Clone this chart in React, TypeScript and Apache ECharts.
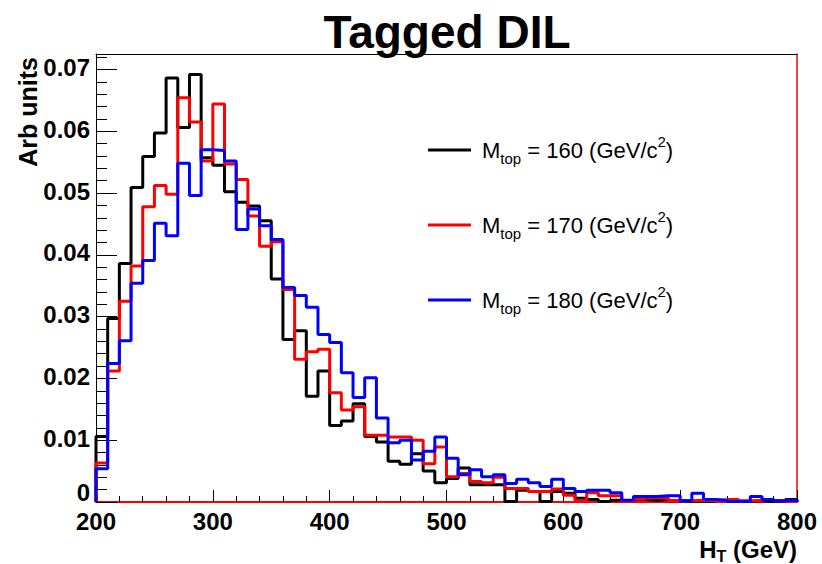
import React, { useEffect, useRef } from "react";
import * as echarts from "echarts";

// Histogram H_T, bins of 10 GeV from 200 to 800 GeV
const binStart = 200;
const binWidth = 10;

const m160 = [
  0.0106, 0.0297, 0.0386, 0.0509, 0.0559, 0.0597, 0.0686, 0.0606, 0.0692, 0.0557,
  0.0545, 0.0502, 0.0485, 0.0479, 0.0455, 0.0361, 0.0263, 0.0277, 0.0171, 0.0212,
  0.0124, 0.0131, 0.0159, 0.0106, 0.0097, 0.0066, 0.0061, 0.0078, 0.0050, 0.0031,
  0.0038, 0.0055, 0.0028, 0.0028, 0.0028, 0.0001, 0.0019, 0.0017, 0.0001, 0.0017,
  0.0014, 0.0006, 0.0004, 0.0001, 0.0003, 0.0001, 0.0004, 0.0003, 0.0004, 0.0002,
  0.0001, 0.0001, 0.0001, 0.0003, 0.0003, 0.0001, 0.0002, 0.0001, 0.0002, 0.0004,
];

const m170 = [
  0.0063, 0.0212, 0.0325, 0.0382, 0.0478, 0.0512, 0.0498, 0.0654, 0.0615, 0.0552,
  0.0644, 0.0547, 0.0522, 0.0463, 0.0414, 0.0421, 0.0344, 0.0231, 0.0243, 0.0247,
  0.0177, 0.0149, 0.0154, 0.0108, 0.0108, 0.0105, 0.0105, 0.0100, 0.0062, 0.0089,
  0.0041, 0.0046, 0.0033, 0.0031, 0.0040, 0.0022, 0.0022, 0.0017, 0.0017, 0.0021,
  0.0011, 0.0002, 0.0015, 0.0010, 0.0010, 0.0001, 0.0005, 0.0007, 0.0006, 0.0002,
  0.0002, 0.0003, 0.0002, 0.0002, 0.0004, 0.0002, 0.0002, 0.0004, 0.0002, 0.0002,
];

const m180 = [
  0.0054, 0.0224, 0.0261, 0.0354, 0.0391, 0.0451, 0.0431, 0.0548, 0.0496, 0.0570,
  0.0569, 0.0552, 0.0441, 0.0474, 0.0447, 0.0425, 0.0347, 0.0334, 0.0315, 0.0271,
  0.0258, 0.0209, 0.0169, 0.0201, 0.0136, 0.0096, 0.0100, 0.0068, 0.0082, 0.0105,
  0.0071, 0.0044, 0.0052, 0.0041, 0.0044, 0.0030, 0.0037, 0.0031, 0.0025, 0.0037,
  0.0022, 0.0017, 0.0019, 0.0019, 0.0015, 0.0003, 0.0009, 0.0009, 0.0010, 0.0010,
  0.0002, 0.0014, 0.0004, 0.0003, 0.0001, 0.0001, 0.0009, 0.0004, 0.0002, 0.0003,
];

const seriesNames = ["160", "170", "180"];
const seriesColors = ["#000000", "#ff0000", "#0000ff"];
const xTicks = [200, 300, 400, 500, 600, 700, 800];

const FONT = "'Liberation Sans', Arial, Helvetica, sans-serif";

function toSteps(vals: number[]): number[][] {
  const pts: number[][] = [[binStart, 0]];
  vals.forEach((v, i) => pts.push([binStart + i * binWidth, v]));
  const end = binStart + vals.length * binWidth;
  pts.push([end, vals[vals.length - 1]]);
  pts.push([end, 0]);
  return pts;
}

export default function App() {
  const ref = useRef<HTMLDivElement>(null);
  useEffect(() => {
    if (!ref.current) return;
    const chart = echarts.init(ref.current, undefined, { renderer: "svg" });
    const gridLeft = 96;
    const gridTop = 54;
    const gridRight = 25;
    const gridBottom = 62;
    const yMax = 0.0725;
    const legendY = [150, 225, 300];
    const data = [m160, m170, m180];

    const graphics: any[] = [
      {
        type: "text",
        x: 447,
        y: 32,
        style: {
          text: "Tagged DIL",
          font: `bold 46px ${FONT}`,
          fill: "#000",
          align: "center",
          verticalAlign: "middle",
        },
      },
      {
        type: "text",
        x: 28,
        y: 57,
        rotation: Math.PI / 2,
        style: {
          text: "Arb units",
          font: `bold 25px ${FONT}`,
          fill: "#000",
          align: "right",
          verticalAlign: "middle",
        },
      },
      {
        type: "text",
        x: 797,
        y: 549,
        style: {
          text: "{a|H}{s|T}{a| (GeV)}",
          align: "right",
          verticalAlign: "middle",
          rich: {
            a: { fontFamily: FONT, fontWeight: "bold", fontSize: 24, lineHeight: 30, verticalAlign: "middle", fill: "#000" },
            s: { fontFamily: FONT, fontWeight: "bold", fontSize: 16, lineHeight: 15, verticalAlign: "bottom", fill: "#000" },
          },
        },
      },
    ];
    seriesNames.forEach((n, i) => {
      graphics.push({
        type: "line",
        shape: { x1: 428, y1: legendY[i], x2: 471, y2: legendY[i] },
        style: { stroke: seriesColors[i], lineWidth: 3 },
      });
      graphics.push({
        type: "text",
        x: 482,
        y: legendY[i],
        style: {
          text: `{m|M}{s|top}{m| = ${n} (GeV/c}{p|2}{m|)}`,
          verticalAlign: "middle",
          rich: {
            m: { fontFamily: FONT, fontSize: 22, lineHeight: 32, verticalAlign: "middle", fill: "#000" },
            s: { fontFamily: FONT, fontSize: 15, lineHeight: 14, verticalAlign: "bottom", fill: "#000" },
            p: { fontFamily: FONT, fontSize: 15, lineHeight: 10, verticalAlign: "top", fill: "#000" },
          },
        },
      });
    });

    const labelFont = { fontFamily: FONT, fontWeight: "bold" as const, fontSize: 24, color: "#000" };

    chart.setOption({
      animation: false,
      backgroundColor: "#ffffff",
      grid: { left: gridLeft, top: gridTop, right: gridRight, bottom: gridBottom, containLabel: false },
      xAxis: [
        {
          type: "value",
          min: xTicks[0],
          max: xTicks[xTicks.length - 1],
          interval: 100,
          position: "bottom",
          axisLine: { show: true, onZero: false, lineStyle: { color: "#ff0000", width: 2 } },
          axisTick: { show: true, inside: true, length: 12, lineStyle: { color: "#000", width: 1 } },
          minorTick: { show: true, splitNumber: 5, length: 6, lineStyle: { color: "#000", width: 1 } },
          axisLabel: {
            show: true,
            margin: 11,
            ...labelFont,
            lineHeight: 17,
            showMaxLabel: true,
            showMinLabel: true,
          },
          splitLine: { show: false },
        },
        {
          type: "value",
          min: xTicks[0],
          max: xTicks[xTicks.length - 1],
          position: "top",
          axisLine: { show: true, onZero: false, lineStyle: { color: "#000", width: 1 } },
          axisTick: { show: false },
          axisLabel: { show: false },
          splitLine: { show: false },
        },
      ],
      yAxis: [
        {
          type: "value",
          min: 0,
          max: yMax,
          interval: 0.01,
          position: "left",
          axisLine: { show: true, onZero: false, lineStyle: { color: "#000", width: 1 } },
          axisTick: { show: true, inside: true, length: 21, lineStyle: { color: "#000", width: 1 } },
          axisLabel: {
            show: true,
            margin: 6,
            ...labelFont,
            lineHeight: 17,
            padding: [0, 0, 4, 0],
            formatter: (v: number) => (v > 0.0705 ? "" : v === 0 ? "{z|0}" : v.toFixed(2)),
            rich: {
              z: { ...labelFont, lineHeight: 17, padding: [0, 0, 16, 0] },
            },
          },
          splitLine: { show: false },
        },
        {
          type: "value",
          min: 0,
          max: yMax,
          interval: 0.002,
          position: "left",
          axisLine: { show: false, onZero: false },
          axisTick: { show: true, inside: true, length: 11, lineStyle: { color: "#000", width: 1 } },
          axisLabel: { show: false },
          splitLine: { show: false },
        },
        {
          type: "value",
          min: 0,
          max: yMax,
          position: "right",
          axisLine: { show: true, onZero: false, lineStyle: { color: "#ff0000", width: 1.5 } },
          axisTick: { show: false },
          axisLabel: { show: false },
          splitLine: { show: false },
        },
      ],
      series: data.map((vals, i) => ({
        type: "line",
        name: seriesNames[i],
        xAxisIndex: 0,
        yAxisIndex: 0,
        step: "end",
        showSymbol: false,
        symbol: "none",
        data: toSteps(vals),
        lineStyle: { color: seriesColors[i], width: 3 },
        z: 2 + i,
      })),
      graphic: graphics,
    });
    return () => chart.dispose();
  }, []);
  return (
    <div
      ref={ref}
      style={{ position: "fixed", left: 0, top: 0, width: 822, height: 564, background: "#fff" }}
    />
  );
}
